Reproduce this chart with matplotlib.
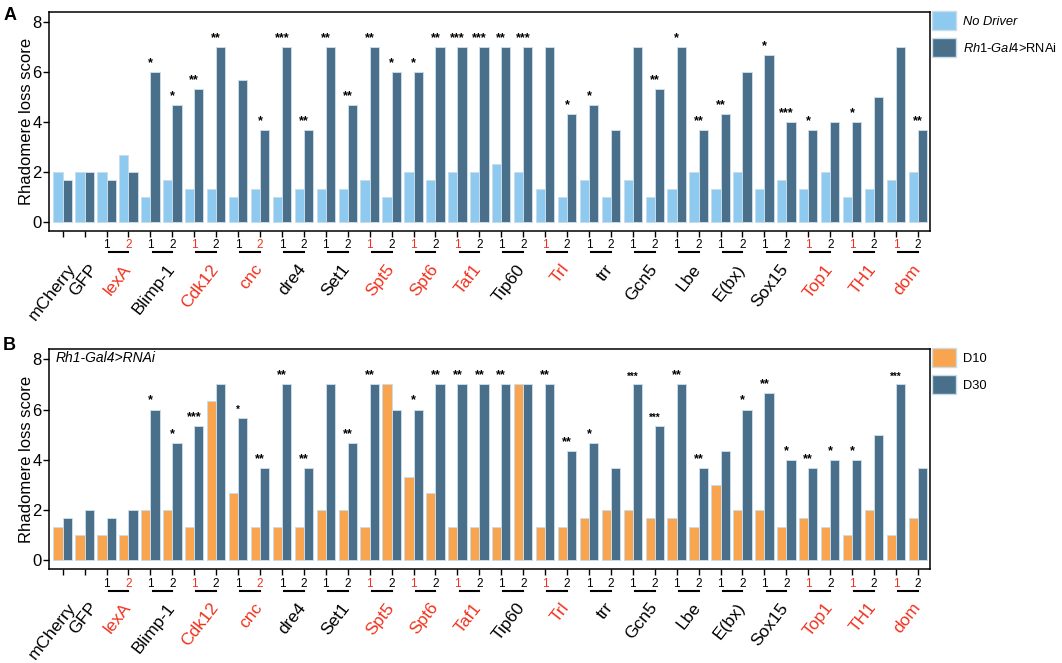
import numpy as np
import matplotlib
matplotlib.use("Agg")
import matplotlib.pyplot as plt
from matplotlib.patches import Patch

plt.rcParams['font.family'] = ['Liberation Sans', 'DejaVu Sans']
plt.rcParams['mathtext.fontset'] = 'custom'
plt.rcParams['mathtext.rm'] = 'Liberation Sans'
plt.rcParams['mathtext.it'] = 'Liberation Sans:italic'

# genes along the x axis; controls have one bar pair, RNAi genes have lines 1 and 2
genes = ['mCherry', 'GFP', 'lexA', 'Blimp-1', 'Cdk12', 'cnc', 'dre4', 'Set1', 'Spt5',
         'Spt6', 'Taf1', 'Tip60', 'Trl', 'trr', 'Gcn5', 'Lbe', 'E(bx)', 'Sox15',
         'Top1', 'TH1', 'dom']
controls = ['mCherry', 'GFP']
red_genes = ['lexA', 'Cdk12', 'cnc', 'Spt5', 'Spt6', 'Taf1', 'Trl', 'Top1', 'TH1', 'dom']
# which RNAi line number is printed in red
red_line = {'lexA': '2', 'Cdk12': '1', 'cnc': '2', 'Spt5': '1', 'Spt6': '1',
            'Taf1': '1', 'Trl': '1', 'Top1': '1', 'TH1': '1', 'dom': '1'}

# panel A
no_driver = [2, 2, 2, 2.67, 1, 1.67, 1.33, 1.33, 1, 1.33, 1, 1.33, 1.33, 1.33, 1.67, 1,
             2, 1.67, 2, 2, 2.33, 2, 1.33, 1, 1.67, 1, 1.67, 1, 1.33, 2, 1.33, 2,
             1.33, 1.67, 1.33, 2, 1, 1.33, 1.67, 2]
rh1_rnai = [1.67, 2, 1.67, 2, 6, 4.67, 5.33, 7, 5.67, 3.67, 7, 3.67, 7, 4.67, 7, 6,
            6, 7, 7, 7, 7, 7, 7, 4.33, 4.67, 3.67, 7, 5.33, 7, 3.67, 4.33, 6,
            6.67, 4, 3.67, 4, 4, 5, 7, 3.67]
stars_A = ['', '', '', '', '*', '*', '**', '**', '', '*', '***', '**', '**', '**', '**', '*',
           '*', '**', '***', '***', '**', '***', '', '*', '*', '', '', '**', '*', '**', '**', '',
           '*', '***', '*', '', '*', '', '', '**']

# panel B
d10 = [1.33, 1, 1, 1, 2, 2, 1.33, 6.33, 2.67, 1.33, 1.33, 1.33, 2, 2, 1.33, 7,
       3.33, 2.67, 1.33, 1.33, 1.33, 7, 1.33, 1.33, 1.67, 2, 2, 1.67, 1.67, 1.33, 3, 2,
       2, 1.33, 1.67, 1.33, 1, 2, 1, 1.67]
d30 = rh1_rnai
stars_B = ['', '', '', '', '*', '*', '***', '', '*', '**', '**', '**', '', '**', '**', '',
           '*', '**', '**', '**', '**', '', '**', '**', '*', '', '***', '***', '**', '**', '', '*',
           '**', '*', '**', '*', '*', '', '***', '']
small_B = [8, 26, 27, 38]

light_blue = '#8ECAEF'
slate = '#4A6F8B'
orange = '#F9A550'
edge = '#C9DCEA'

# tick labels and group centres
tick_lab, tick_col, centres = [], [], []
for g in genes:
    if g in controls:
        tick_lab.append('')
        tick_col.append('black')
        centres.append((g, len(tick_lab) - 1, None))
    else:
        for n in ['1', '2']:
            tick_lab.append(n)
            tick_col.append('#F0321E' if red_line.get(g) == n else 'black')
        centres.append((g, len(tick_lab) - 1.5, len(tick_lab) - 2))
x = np.arange(len(tick_lab))
w = 0.42

fig = plt.figure(figsize=(10.62, 6.63), dpi=100)
axA = fig.add_axes([0.0464, 0.6516, 0.8293, 0.3299])
axB = fig.add_axes([0.0464, 0.1413, 0.8293, 0.3318])


def draw(ax, left, right, c_left, stars, small, lab_left, lab_right, italic_left):
    ax.bar(x - w / 2, left, w, color=c_left, edgecolor=edge, linewidth=0.7)
    ax.bar(x + w / 2, right, w, color=slate, edgecolor=edge, linewidth=0.7)
    for i, s in enumerate(stars):
        if s:
            top = max(left[i], right[i])
            ax.text(x[i], top + 0.12, s, ha='center', va='bottom',
                    fontsize=7 if i in small else 9, fontweight='bold')
    ax.set_xlim(-0.61, len(x) - 0.45)
    ax.set_ylim(-0.37, 8.4)
    ax.set_yticks([0, 2, 4, 6, 8])
    ax.tick_params(axis='y', labelsize=12, length=4, width=1, pad=1.5)
    ax.set_ylabel('Rhadomere loss score', fontsize=12, labelpad=-1)
    ax.set_xticks(x)
    ax.set_xticklabels(tick_lab, fontsize=8.5)
    for t, c in zip(ax.get_xticklabels(), tick_col):
        t.set_color(c)
    ax.tick_params(axis='x', length=4, width=1, pad=2)
    for sp in ax.spines.values():
        sp.set_linewidth(1.1)
    tr = ax.get_xaxis_transform()
    for g, c, first in centres:
        if first is not None:
            ax.plot([x[first] + 0.1, x[first + 1]], [-0.098, -0.098], color='black',
                    lw=1.5, transform=tr, clip_on=False)
        ax.text(c + 0.2, -0.14, g, transform=tr, rotation=52, ha='right', va='top',
                rotation_mode='anchor', fontsize=12.5,
                color='#F0321E' if g in red_genes else 'black')
    handles = [Patch(facecolor=c_left, edgecolor=edge, label=lab_left),
               Patch(facecolor=slate, edgecolor=edge, label=lab_right)]
    leg = ax.legend(handles=handles, loc='upper left', bbox_to_anchor=(1.002, 1.005),
                    frameon=False, borderaxespad=0, borderpad=0, handlelength=1.9,
                    handleheight=1.9, handletextpad=0.55, labelspacing=0.6, fontsize=9.3)
    if italic_left:
        leg.get_texts()[0].set_style('italic')


draw(axA, no_driver, rh1_rnai, light_blue, stars_A, [], 'No Driver',
     r'$\mathit{Rh1}\text{-}\mathit{Gal4}$>RNAi', True)
draw(axB, d10, d30, orange, stars_B, small_B, 'D10', 'D30', False)
axB.text(0.007, 0.96, 'Rh1-Gal4>RNAi', style='italic', fontsize=10,
         transform=axB.transAxes, va='center', ha='left')

fig.text(0.003, 0.99, 'A', fontsize=13, fontweight='bold', va='top')
fig.text(0.003, 0.492, 'B', fontsize=13, fontweight='bold', va='top')

fig.savefig('out.png', dpi=100)
